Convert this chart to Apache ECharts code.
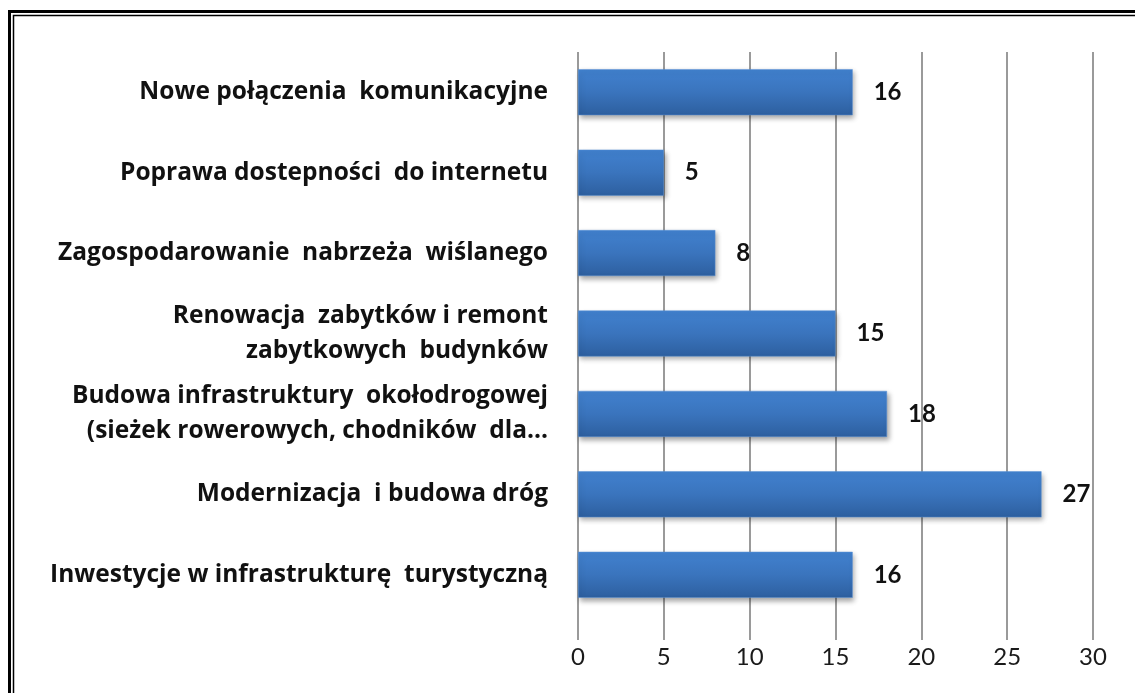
<!DOCTYPE html>
<html>
<head>
<meta charset="utf-8">
<script src="https://cdn.jsdelivr.net/npm/echarts@6/dist/echarts.min.js"></script>
<style>
html,body{margin:0;padding:0;background:#fff;}
#chart{width:1135px;height:693px;}
</style>
</head>
<body>
<div id="chart"></div>
<script>
const categories = [
  "Nowe połączenia  komunikacyjne",
  "Poprawa dostepności  do internetu",
  "Zagospodarowanie  nabrzeża  wiślanego",
  "Renowacja  zabytków i remont\nzabytkowych  budynków",
  "Budowa infrastruktury  okołodrogowej\n(sieżek rowerowych, chodników  dla...",
  "Modernizacja  i budowa dróg",
  "Inwestycje w infrastrukturę  turystyczną"
];
const values = [16, 5, 8, 15, 18, 27, 16];
const xTicks = { min: 0, max: 30, interval: 5 };

const chart = echarts.init(document.getElementById('chart'), null, {renderer: 'canvas'});
const font = 'Lato, "Open Sans", sans-serif';
const catFont = '"Open Sans", Lato, sans-serif';
chart.setOption({
  backgroundColor: '#fff',
  animation: false,
  grid: { left: 578, right: 42, top: 52, bottom: 78, containLabel: false },
  xAxis: {
    type: 'value', min: xTicks.min, max: xTicks.max, interval: xTicks.interval,
    axisLine: { show: false },
    axisTick: { show: true, length: 25, lineStyle: { color: '#9a9a9a', width: 2 } },
    splitLine: { show: true, lineStyle: { color: '#9a9a9a', width: 2 } },
    axisLabel: { margin: 30, fontFamily: font, fontSize: 24, color: '#1a1a1a' }
  },
  yAxis: {
    type: 'category', data: categories, inverse: true,
    axisLine: { show: false }, axisTick: { show: false },
    axisLabel: { margin: 30, fontFamily: catFont, fontSize: 24.5, fontWeight: 'bold', color: '#111', lineHeight: 35, align: 'right' }
  },
  series: [{
    type: 'bar', data: values, barWidth: 46,
    itemStyle: {
      color: new echarts.graphic.LinearGradient(0, 0, 0, 1, [
        { offset: 0, color: '#4181cf' },
        { offset: 0.5, color: '#3a74bd' },
        { offset: 1, color: '#2d5f9f' }
      ]),
      borderColor: '#5b92d6', borderWidth: 0.5,
      shadowBlur: 5, shadowOffsetX: 2, shadowOffsetY: 3, shadowColor: 'rgba(0,0,0,0.35)'
    },
    label: { show: true, position: 'right', distance: 21, fontFamily: font, fontSize: 24, fontWeight: 'bold', color: '#111' }
  }],
  graphic: [
    { type: 'rect', shape: { x: 9.5, y: 11.5, width: 1200, height: 800 }, style: { fill: 'none', stroke: '#000', lineWidth: 3 } },
    { type: 'rect', shape: { x: 13.5, y: 15.5, width: 1200, height: 800 }, style: { fill: 'none', stroke: '#000', lineWidth: 1.5 } }
  ]
});
</script>
</body>
</html>
